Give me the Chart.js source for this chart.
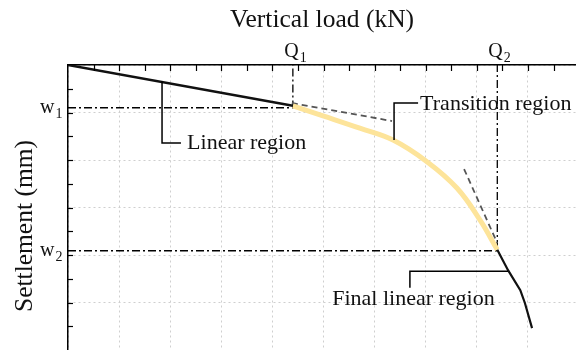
<!DOCTYPE html>
<html>
<head>
<meta charset="utf-8">
<script src="https://cdn.jsdelivr.net/npm/chart.js@4.4.0/dist/chart.umd.min.js"></script>
<style>
  html, body { margin: 0; padding: 0; background: #fff; }
  #wrap { width: 576px; height: 350px; }
</style>
</head>
<body>
<div id="wrap"><canvas id="myChart" width="576" height="350"></canvas></div>
<script>
// load (x) vs settlement (y), in grid units
const linearPts = [[0, 0], [4.40, 0.86]];
const transitionPts = [[4.40, 0.86], [4.99, 1.07], [5.71, 1.33], [6.36, 1.58], [7.03, 2.04], [7.61, 2.59], [8.06, 3.26], [8.40, 3.89]];
const finalPts = [[8.40, 3.89], [8.61, 4.32], [8.85, 4.74], [8.94, 5.01], [9.08, 5.54]];
const tangent1 = [[4.38, 0.80], [6.34, 1.18]];
const tangent2 = [[7.75, 2.19], [8.40, 3.75]];

const Q1 = 4.40, Q2 = 8.40;
const w1 = 0.90, w2 = 3.91;

// leader lines for the region labels
const leaderLinear = [[1.84, 0.34], [1.84, 1.64], [2.21, 1.64]];
const leaderTransition = [[6.38, 1.58], [6.38, 0.80], [6.85, 0.80]];
const leaderFinal = [[6.69, 4.69], [6.69, 4.34], [8.61, 4.34]];
const regionLabels = [
  { text: 'Linear region', x: 2.33, y: 1.77 },
  { text: 'Transition region', x: 6.89, y: 0.95 },
  { text: 'Final linear region', x: 5.17, y: 5.05 }
];

const xMax = 9.94, yMax = 6;
const serif = '"Liberation Serif", "Times New Roman", serif';

function pts(arr) {
  return arr.map(p => ({ x: p[0], y: p[1] }));
}

function line(data, color, width, dash, order, tension) {
  return {
    data: pts(data),
    borderColor: color,
    borderWidth: width,
    borderDash: dash || [],
    pointRadius: 0,
    fill: false,
    tension: tension || 0,
    order: order
  };
}

const datasets = [
  line([[0, w1], [Q1, w1], [Q1, 0]], '#000', 1.3, [8, 3, 2, 3], 9),
  line([[0, w2], [Q2, w2], [Q2, 0]], '#000', 1.3, [8, 3, 2, 3], 9),
  line(tangent1, '#555', 1.8, [6, 4], 8),
  line(tangent2, '#555', 1.8, [6, 4], 8),
  line(transitionPts, '#fde49a', 5, null, 5, 0.4),
  line(linearPts, '#111', 2.5, null, 3),
  line(finalPts, '#111', 2.2, null, 3),
  line(leaderLinear, '#000', 1.5, null, 1),
  line(leaderTransition, '#000', 1.5, null, 1),
  line(leaderFinal, '#000', 1.5, null, 1)
];

function gridColor(ctx) {
  const v = ctx.tick ? ctx.tick.value : 0;
  return Math.abs(v - Math.round(v)) < 1e-6 ? '#cfcfcf' : 'rgba(0,0,0,0)';
}

// inward tick marks, axis titles and labels
const decor = {
  id: 'decor',
  afterDraw(chart) {
    const ctx = chart.ctx;
    const xs = chart.scales.x, ys = chart.scales.y;
    const area = chart.chartArea;
    ctx.save();
    ctx.strokeStyle = '#000';
    ctx.lineWidth = 1.2;
    for (let v = 0.5; v < xMax; v += 0.5) {
      const px = Math.round(xs.getPixelForValue(v)) + 0.5;
      ctx.beginPath();
      ctx.moveTo(px, area.top);
      ctx.lineTo(px, area.top + 6);
      ctx.stroke();
    }
    for (let v = 0.5; v < yMax; v += 0.5) {
      const py = Math.round(ys.getPixelForValue(v)) + 0.5;
      ctx.beginPath();
      ctx.moveTo(area.left, py);
      ctx.lineTo(area.left + 5, py);
      ctx.stroke();
    }

    ctx.fillStyle = '#111';
    ctx.textBaseline = 'alphabetic';

    // axis titles
    ctx.font = '25.5px ' + serif;
    ctx.textAlign = 'center';
    ctx.fillText('Vertical load (kN)', (area.left + area.right) / 2, 27);
    ctx.save();
    ctx.translate(32, 226);
    ctx.rotate(-Math.PI / 2);
    ctx.fillText('Settlement (mm)', 0, 0);
    ctx.restore();

    // Q and w labels with subscripts
    ctx.textAlign = 'left';
    function sub(main, s, x, y) {
      ctx.font = '20px ' + serif;
      ctx.fillText(main, x, y);
      const w = ctx.measureText(main).width;
      ctx.font = '14px ' + serif;
      ctx.fillText(s, x + w + 1, y + 5);
    }
    sub('Q', '1', xs.getPixelForValue(Q1) - 8.5, 57);
    sub('Q', '2', xs.getPixelForValue(Q2) - 9, 57);
    sub('w', '1', 40, ys.getPixelForValue(w1) + 5);
    sub('w', '2', 40, ys.getPixelForValue(w2) + 5.5);

    ctx.font = '22px ' + serif;
    regionLabels.forEach(l => {
      ctx.fillText(l.text, xs.getPixelForValue(l.x), ys.getPixelForValue(l.y));
    });
    ctx.restore();
  }
};

const chart = new Chart(document.getElementById('myChart').getContext('2d'), {
  type: 'line',
  data: { datasets: datasets },
  options: {
    responsive: false,
    animation: false,
    layout: { padding: 0 },
    plugins: { legend: { display: false }, tooltip: { enabled: false } },
    scales: {
      x: {
        type: 'linear',
        position: 'top',
        min: 0,
        max: xMax,
        ticks: { display: false, stepSize: 0.5 },
        grid: { color: gridColor, drawTicks: false, lineWidth: 1 },
        border: { display: true, color: '#000', width: 1.5, dash: [2, 3] },
        afterFit: s => { s.height = 65; }
      },
      y: {
        type: 'linear',
        reverse: true,
        min: 0,
        max: yMax,
        ticks: { display: false, stepSize: 0.5 },
        grid: { color: gridColor, drawTicks: false, lineWidth: 1 },
        border: { display: true, color: '#000', width: 1.5, dash: [2, 3] },
        afterFit: s => { s.width = 68; }
      }
    }
  },
  plugins: [decor]
});
</script>
</body>
</html>
